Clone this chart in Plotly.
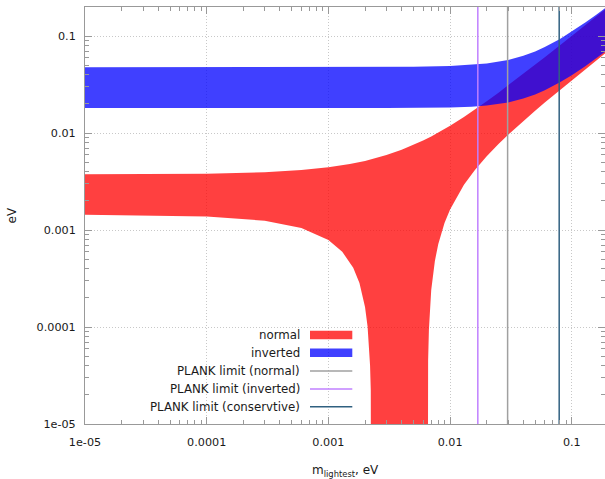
import math
import plotly.graph_objects as go

# ---------------- data ----------------
normal_upper_x = [1e-5, 1e-4, 3e-4, 6e-4, 1e-3, 1.5e-3, 2e-3, 2.5e-3, 3e-3, 4e-3, 5e-3,
                  6e-3, 7e-3, 8e-3, 1e-2, 1.3e-2, 1.6e-2, 2e-2, 2.5e-2, 3e-2, 4e-2,
                  5e-2, 6e-2, 8e-2, 0.1, 0.13, 0.16, 0.2]
normal_upper = [0.003757, 0.003818, 0.003955, 0.004163, 0.004445, 0.004806, 0.005175,
                0.005552, 0.005937, 0.006729, 0.007547, 0.008388, 0.009249, 0.010126,
                0.011922, 0.014688, 0.017514, 0.021338, 0.026174, 0.031049, 0.040871,
                0.050749, 0.060663, 0.08055, 0.100483, 0.13043, 0.160405, 0.200398]

# lower edge of the normal band; it drops to zero (far below the axis) inside the funnel
normal_lower_x = [1e-5, 1e-4, 3e-4, 6e-4, 1e-3, 1.3e-3, 1.6e-3, 1.8e-3, 2e-3, 2.1e-3,
                  2.15e-3, 2.2e-3, 2.23e-3, 2.24e-3, 2.25e-3, 2.26e-3, 2.27e-3,
                  6.5e-3, 6.52e-3, 6.55e-3, 6.6e-3, 6.7e-3, 6.85e-3, 7e-3, 7.5e-3,
                  8e-3, 9e-3, 1e-2, 1.3e-2, 1.6e-2, 2e-2, 2.5e-2, 3e-2, 4e-2, 5e-2,
                  6e-2, 8e-2, 0.1, 0.13, 0.16, 0.2]
normal_lower = [0.001443, 0.001382, 0.001248, 0.001049, 0.000789, 0.000598, 0.000409,
                0.000285, 0.000161, 0.0001006, 0.0000704, 0.0000402, 0.0000221,
                0.0000161, 0.0000101, 0.0000042, 1e-9,
                1e-9, 0.0000053, 0.0000201, 0.0000446, 0.0000941, 0.0001674, 0.0002406,
                0.0004813, 0.000718, 0.0011822, 0.001634, 0.002934, 0.004176, 0.005774,
                0.007716, 0.009619, 0.013353, 0.017031, 0.020673, 0.027898, 0.035077,
                0.045798, 0.056491, 0.070722]

inverted_x = [1e-5, 1e-3, 3e-3, 5e-3, 1e-2, 1.5e-2, 2e-2, 3e-2, 4e-2, 5e-2, 6e-2,
              8e-2, 0.1, 0.13, 0.16, 0.2]
inverted_upper = [0.04794, 0.04797, 0.04810, 0.04831, 0.04916, 0.05048, 0.05224,
                  0.05690, 0.06280, 0.06963, 0.07715, 0.09360, 0.11122, 0.13887,
                  0.16734, 0.20599]
inverted_lower = [0.01819, 0.01817, 0.01816, 0.01818, 0.01835, 0.01871, 0.01924,
                  0.02074, 0.02272, 0.02507, 0.02767, 0.03342, 0.03961, 0.04936,
                  0.05942, 0.07308]

planck_names = ["PLANK limit (normal)", "PLANK limit (inverted)", "PLANK limit (conservtive)"]
planck_values = [0.0297, 0.0169, 0.0788]
planck_colors = ["#a0a0a0", "#c080ff", "#306080"]

# tick labels as printed on the reference (log decades)
tick_alias = {"0.00001": "1e-05", "1e-5": "1e-05", "1e\u22125": "1e-05"}

RED = "rgba(255,0,0,0.75)"
BLUE = "rgba(0,0,255,0.75)"
FONT = "DejaVu Sans"
AXC = "#999999"
GRIDC = "#c8c8c8"
TXT = "#1a1a1a"

X_RANGE = [-5, math.log10(0.1875)]
Y_RANGE = [-5, math.log10(0.2)]

fig = go.Figure()

fig.add_trace(go.Scatter(
    x=normal_upper_x + normal_lower_x[::-1],
    y=normal_upper + normal_lower[::-1],
    mode="lines", fill="toself", fillcolor=RED, line=dict(width=0),
    hoverinfo="skip", showlegend=False, name="normal"))

fig.add_trace(go.Scatter(
    x=inverted_x + inverted_x[::-1],
    y=inverted_upper + inverted_lower[::-1],
    mode="lines", fill="toself", fillcolor=BLUE, line=dict(width=0),
    hoverinfo="skip", showlegend=False, name="inverted"))

for name, v, c in zip(planck_names, planck_values, planck_colors):
    fig.add_trace(go.Scatter(x=[v, v], y=[1e-7, 10], mode="lines",
                             line=dict(color=c, width=1.5), hoverinfo="skip",
                             showlegend=False, name=name))

axis_common = dict(
    type="log", tickmode="linear", tick0=0, dtick=1, tickformat="~g",
    labelalias=tick_alias,
    ticks="inside", ticklen=7, tickwidth=1,
    tickcolor=AXC, showline=True, linecolor=AXC, linewidth=1, mirror="ticks",
    showgrid=True, gridcolor=GRIDC, griddash="1px,2px", gridwidth=1, zeroline=False,
    tickfont=dict(family=FONT, size=11.2, color=TXT),
    minor=dict(dtick="D1", ticks="inside", ticklen=4, tickwidth=1, tickcolor=AXC,
               showgrid=False),
)

fig.update_layout(
    width=605, height=479,
    margin=dict(l=85, r=0, t=7, b=55, pad=0),
    paper_bgcolor="white", plot_bgcolor="white",
    showlegend=False,
    xaxis=dict(range=X_RANGE, ticklabelstandoff=8, **axis_common),
    yaxis=dict(range=Y_RANGE, ticklabelstandoff=6, **axis_common),
)

# axis titles
fig.add_annotation(text="m<sub>lightest</sub>, eV", xref="paper", yref="paper",
                   x=0.5, y=-0.112, xanchor="center", yanchor="middle",
                   showarrow=False, font=dict(family=FONT, size=12, color=TXT))
fig.add_annotation(text="eV", xref="paper", yref="paper", x=-0.1423, y=0.5,
                   textangle=-90, xanchor="center", yanchor="middle",
                   showarrow=False, font=dict(family=FONT, size=12, color=TXT))

# manual gnuplot-style key (text right-aligned, sample on the right)
H = 417.0
def py(p):
    return (424.0 - p) / H
def px(p):
    return (p - 85.0) / 520.0

key_labels = ["normal", "inverted"] + planck_names
key_rows = [335.0, 352.8, 371.0, 389.0, 406.7]
for lab, r in zip(key_labels, key_rows):
    fig.add_annotation(text=lab, xref="paper", yref="paper", x=px(302), y=py(r),
                       xanchor="right", yanchor="middle", showarrow=False,
                       font=dict(family=FONT, size=11.8, color=TXT))

for col, r in zip([RED, BLUE], key_rows[:2]):
    fig.add_shape(type="rect", xref="paper", yref="paper",
                  x0=px(310), x1=px(352.3), y0=py(r + 4.3), y1=py(r - 4.3),
                  fillcolor=col, line=dict(width=0))
for col, r in zip(planck_colors, key_rows[2:]):
    fig.add_shape(type="line", xref="paper", yref="paper",
                  x0=px(310), x1=px(352.3), y0=py(r), y1=py(r),
                  line=dict(color=col, width=1.5))

fig.write_html("out.html")
